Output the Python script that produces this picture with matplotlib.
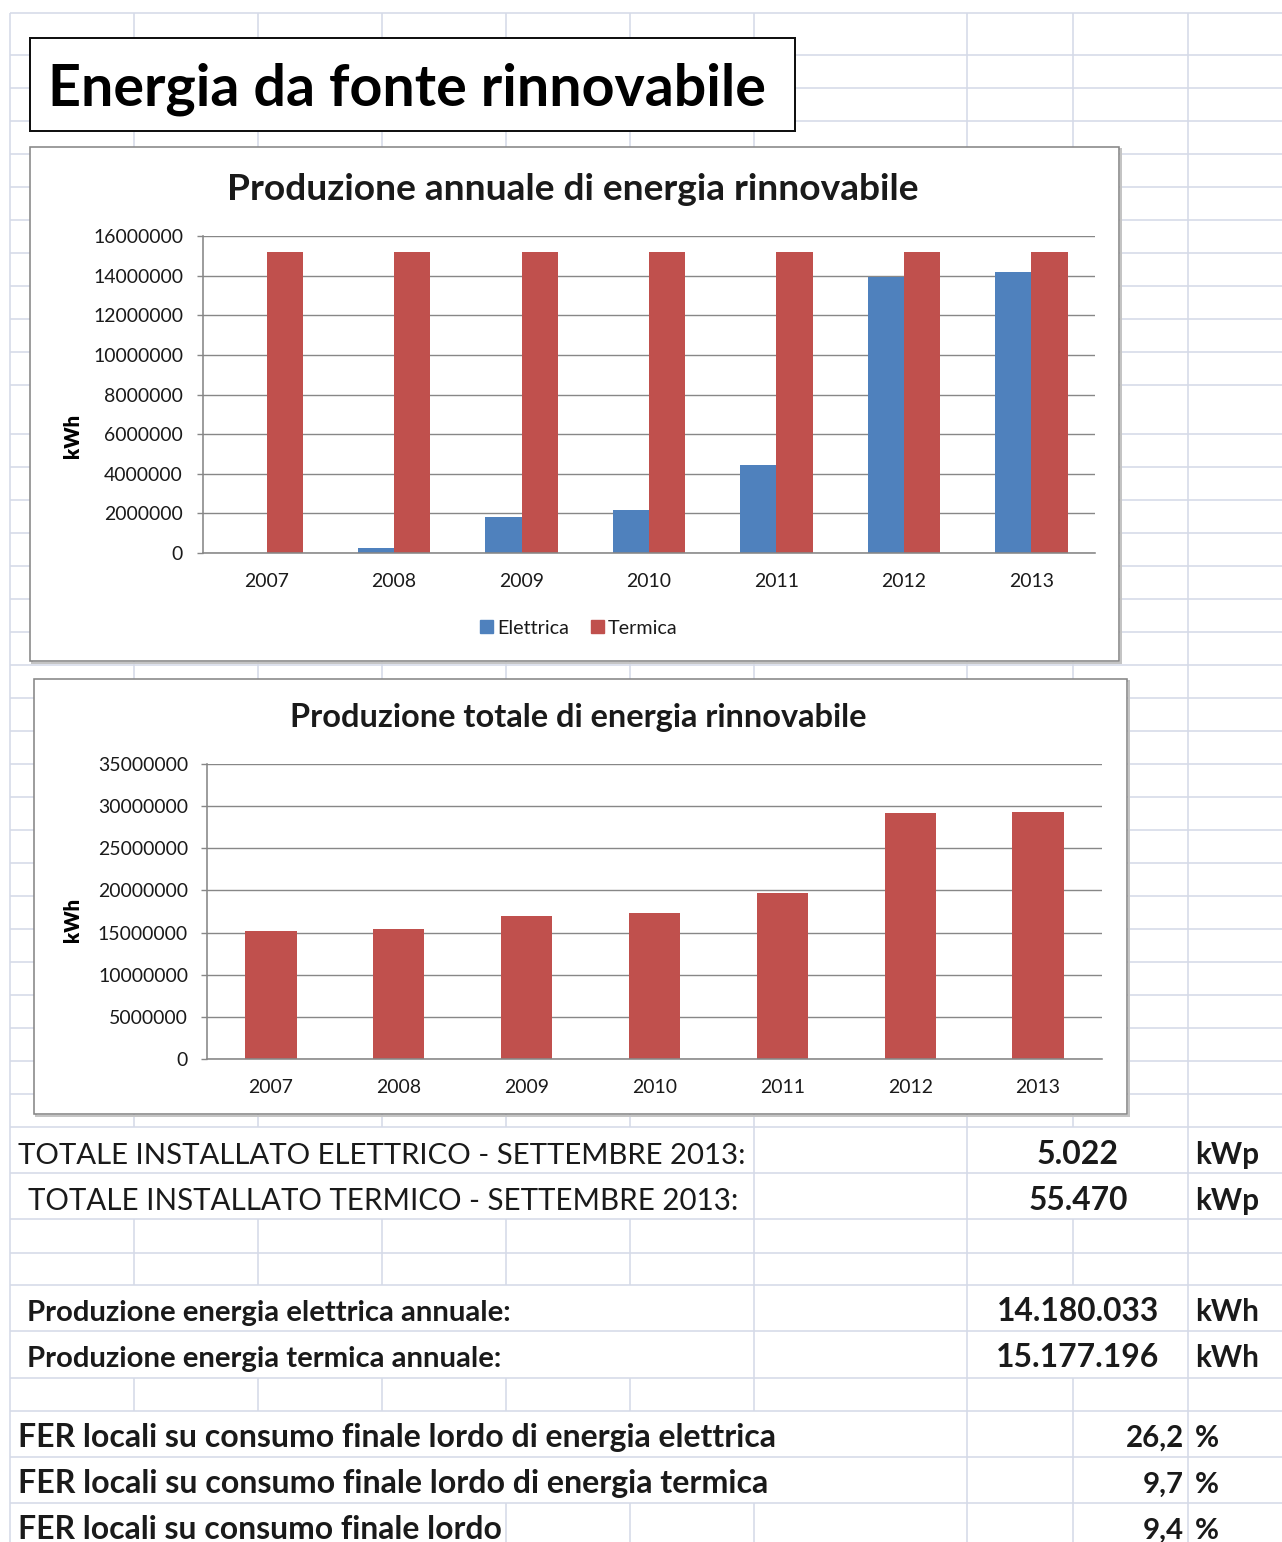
import matplotlib
matplotlib.use("Agg")

import numpy as np
import matplotlib.pyplot as plt
from matplotlib.patches import Rectangle, Patch


# -------------------------------------------------
# DATA
# -------------------------------------------------

years = ["2007", "2008", "2009", "2010", "2011", "2012", "2013"]

elettrica = [0, 240000, 1800000, 2170000, 4450000, 13950000, 14180033]
termica = [15177196, 15177196, 15177196, 15177196, 15177196, 15177196, 15177196]
totale = [15177196, 15400000, 16980000, 17350000, 19650000, 29130000, 29357229]

ticks_annuale = [0, 2000000, 4000000, 6000000, 8000000, 10000000,
                 12000000, 14000000, 16000000]
ticks_totale = [0, 5000000, 10000000, 15000000, 20000000, 25000000,
                30000000, 35000000]

installato_labels = ["TOTALE INSTALLATO ELETTRICO - SETTEMBRE 2013:",
                     "TOTALE INSTALLATO TERMICO - SETTEMBRE 2013:"]
installato_values = ["5.022", "55.470"]

produzione_labels = ["Produzione energia elettrica annuale:",
                     "Produzione energia termica annuale:"]
produzione_values = ["14.180.033", "15.177.196"]

fer_labels = ["FER locali su consumo finale lordo di energia elettrica",
              "FER locali su consumo finale lordo di energia termica",
              "FER locali su consumo finale lordo"]
fer_values = ["26,2", "9,7", "9,4"]


# -------------------------------------------------
# STYLE
# -------------------------------------------------

W, H = 1282, 1542
PX = 0.72            # one pixel in points (dpi 100)
FONT = "Lato"
BLUE = "#4F81BD"
RED = "#C0504D"
AXIS_GREY = "#878787"
SHEET_GRID = "#D5DAE8"
TEXT = "#1A1A1A"

plt.rcParams["font.family"] = [FONT, "DejaVu Sans"]

fig = plt.figure(figsize=(W / 100, H / 100), dpi=100)
renderer = fig.canvas.get_renderer()

bg = fig.add_axes([0, 0, 1, 1])
bg.set_xlim(0, W)
bg.set_ylim(H, 0)
bg.axis("off")


def px_axes(x0, y0, x1, y1):
    return fig.add_axes([x0 / W, 1 - y1 / H, (x1 - x0) / W, (y1 - y0) / H])


def fit(t, width):
    # scale the font so the text spans the measured pixel width
    bb = t.get_window_extent(renderer)
    t.set_fontsize(t.get_fontsize() * width / bb.width)
    return t


def put(x, y, s, width, ha="left", weight="bold", color=TEXT, **kw):
    t = bg.text(x, y, s, ha=ha, va="baseline", fontsize=20,
                fontweight=weight, color=color, zorder=5, **kw)
    return fit(t, width)


def size_for(s, width, weight="normal"):
    t = bg.text(0, 0, s, fontsize=20, fontweight=weight)
    size = 20 * width / t.get_window_extent(renderer).width
    t.remove()
    return size


# -------------------------------------------------
# SPREADSHEET GRID
# -------------------------------------------------

col_x = [10, 134, 258, 382, 506, 630, 754, 967, 1073, 1188]
row_y = [13] + list(range(55, 386, 33)) + list(range(434, 1128, 33)) + \
        [1173, 1219, 1253, 1285, 1331, 1378, 1411, 1457, 1503, H]

# vertical lines covered by overflowing / merged cells
hidden = {
    1127: [134, 258, 382, 506, 630, 1073],
    1173: [134, 258, 382, 506, 630, 1073],
    1285: [134, 258, 382, 506, 630, 1073],
    1331: [134, 258, 382, 506, 630, 1073],
    1411: [134, 258, 382, 506, 630, 754],
    1457: [134, 258, 382, 506, 630, 754],
    1503: [134, 258, 382],
}

bg.hlines(row_y[:-1], 10, W, color=SHEET_GRID, lw=1.6 * PX, zorder=1)
for y0, y1 in zip(row_y[:-1], row_y[1:]):
    xs = [x for x in col_x if x not in hidden.get(y0, [])]
    bg.vlines(xs, y0, y1, color=SHEET_GRID, lw=1.6 * PX, zorder=1)

# title box and chart frames (light shadow under the chart frames)
bg.add_patch(Rectangle((30, 38), 765, 93, facecolor="white",
                       edgecolor="#111111", lw=2 * PX, zorder=3))
for (x0, y0, w, h) in [(30, 147, 1089, 514), (34, 679, 1093, 435)]:
    bg.add_patch(Rectangle((x0 + 1.5, y0 + 1.5), w, h, facecolor="none",
                           edgecolor="#C4C4C4", lw=2 * PX, zorder=2.9))
    bg.add_patch(Rectangle((x0, y0), w, h, facecolor="white",
                           edgecolor=AXIS_GREY, lw=1.6 * PX, zorder=3))

put(48, 106, "Energia da fonte rinnovabile", 717, color="black")
put(573, 200, "Produzione annuale di energia rinnovabile", 692, ha="center")
put(578, 727, "Produzione totale di energia rinnovabile", 577, ha="center")

for yc in [436, 920]:
    t = bg.text(72, yc, "kWh", ha="center", va="center", fontsize=20,
                fontweight="heavy", color="black", zorder=5)
    fit(t, 44)
    t.set_rotation(90)


# -------------------------------------------------
# CHARTS
# -------------------------------------------------

tick_fs = size_for("16000000", 90)
x = np.arange(len(years))


def style_chart(ax, ticks, top, label_pad):
    ax.set_xlim(-0.5, len(years) - 0.5)
    ax.set_ylim(0, top)
    ax.set_yticks(ticks, [str(v) for v in ticks])
    ax.set_xticks(x, years)
    ax.set_facecolor("none")
    ax.grid(axis="y", color=AXIS_GREY, lw=1.4 * PX)
    ax.set_axisbelow(True)
    for side in ["top", "right"]:
        ax.spines[side].set_visible(False)
    for side in ["left", "bottom"]:
        ax.spines[side].set_color(AXIS_GREY)
        ax.spines[side].set_linewidth(1.6 * PX)
    ax.tick_params(axis="y", length=6 * PX, width=1.4 * PX, color=AXIS_GREY,
                   pad=label_pad * PX, labelsize=tick_fs, labelcolor=TEXT)
    ax.tick_params(axis="x", length=0, pad=20 * PX, labelsize=tick_fs,
                   labelcolor=TEXT)


# annual production, two series
ax1 = px_axes(203, 236, 1095, 553)
bw = 0.285
ax1.bar(x - bw / 2, elettrica, bw, color=BLUE, zorder=2)
ax1.bar(x + bw / 2, termica, bw, color=RED, zorder=2)
style_chart(ax1, ticks_annuale, 16000000, 14)

leg_fs = size_for("Elettrica", 72)
sq = 13 * PX / leg_fs
ax1.legend([Patch(color=BLUE), Patch(color=RED)], ["Elettrica", "Termica"],
           loc="center", bbox_to_anchor=(579 / W, 1 - 628 / H),
           bbox_transform=fig.transFigure, ncol=2, frameon=False,
           fontsize=leg_fs, handlelength=sq, handleheight=sq,
           handletextpad=4 * PX / leg_fs, columnspacing=22 * PX / leg_fs,
           labelcolor=TEXT)

# total production
ax2 = px_axes(207, 764, 1102, 1059)
ax2.bar(x, totale, 0.4, color=RED, zorder=2)
style_chart(ax2, ticks_totale, 35000000, 13)


# -------------------------------------------------
# TABLE BELOW THE CHARTS
# -------------------------------------------------

for (lab, val, base, lw_, lx) in zip(installato_labels, installato_values,
                                     [1164, 1210], [727, 709], [18, 28]):
    put(lx, base, lab, lw_, weight="normal")
    put(1078, base, val, 82 if len(val) == 5 else 100, ha="center")
    put(1195, base, "kWp", 64)

for (lab, val, base, lw_) in zip(produzione_labels, produzione_values,
                                 [1321, 1367], [483, 475]):
    put(27, base, lab, lw_)
    put(1078, base, val, 163, ha="center")
    put(1195, base, "kWh", 64)

for (lab, val, base, lw_) in zip(fer_labels, fer_values,
                                 [1447, 1493, 1539], [758, 749, 482]):
    put(18, base, lab, lw_)
    v = put(1184, base, val, 58 if len(val) == 4 else 41, ha="right")
    bg.text(1195, base, "%", ha="left", va="baseline",
            fontsize=v.get_fontsize(), fontweight="bold",
            color=TEXT, zorder=5)

fig.savefig("out.png", dpi=100)
